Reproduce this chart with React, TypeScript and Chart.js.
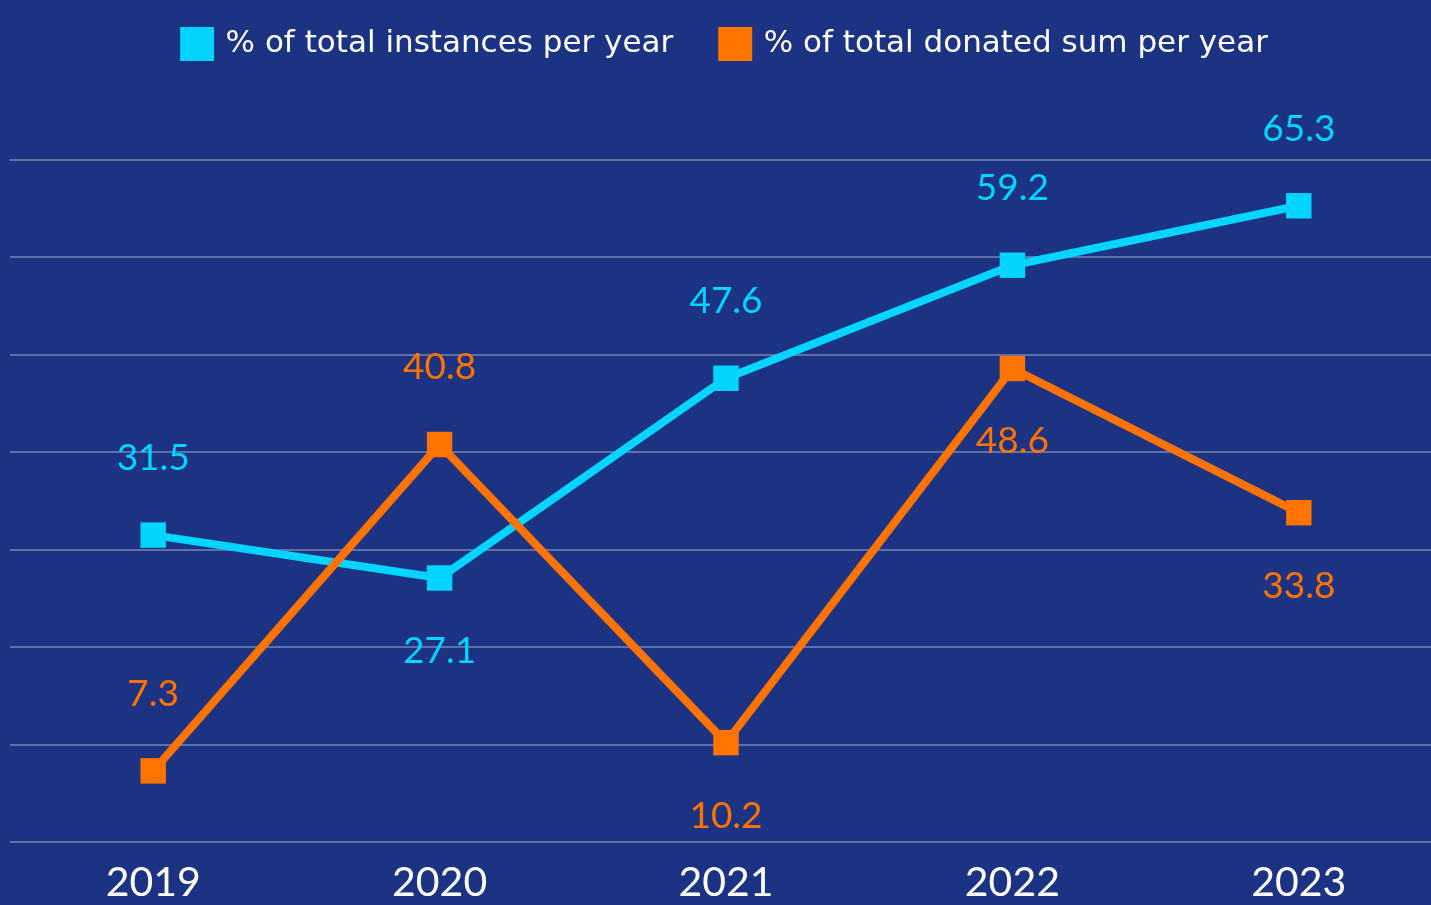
import React, { useEffect, useRef } from "react";
import { Chart, registerables } from "chart.js";

Chart.register(...registerables);

const years = ["2019", "2020", "2021", "2022", "2023"];
const instancesPct = [31.5, 27.1, 47.6, 59.2, 65.3];
const donatedPct = [7.3, 40.8, 10.2, 48.6, 33.8];
const instancesLabelSide = ["above", "below", "above", "above", "above"];
const donatedLabelSide = ["above", "above", "below", "below", "below"];
const yMin = 0;
const yMax = 70;
const yStep = 10;

const BG = "#1b3382";
const CYAN = "#00d4ff";
const ORANGE = "#ff7300";
const LABEL_FONT = "Lato, 'Open Sans', sans-serif";
const LEGEND_FONT = "'DejaVu Sans', 'Open Sans', sans-serif";

const valueLabels = {
  id: "valueLabels",
  afterDatasetsDraw(chart: any) {
    const ctx = chart.ctx;
    ctx.save();
    ctx.font = `37px ${LABEL_FONT}`;
    ctx.textAlign = "center";
    ctx.textBaseline = "middle";
    chart.data.datasets.forEach((ds: any, i: number) => {
      const meta = chart.getDatasetMeta(i);
      ctx.fillStyle = ds.borderColor;
      meta.data.forEach((pt: any, j: number) => {
        const side = ds.labelSide[j];
        const y = side === "above" ? pt.y - 77 : pt.y + 73;
        ctx.fillText(String(ds.data[j]), pt.x, y);
      });
    });
    ctx.restore();
  },
};

export default function App() {
  const ref = useRef<HTMLCanvasElement>(null);
  useEffect(() => {
    document.body.style.margin = "0";
    const chart = new Chart(ref.current!, {
      type: "line",
      data: {
        labels: years,
        datasets: [
          {
            label: "% of total instances per year",
            data: instancesPct,
            borderColor: CYAN,
            backgroundColor: CYAN,
            borderWidth: 8,
            pointStyle: "rect",
            pointRadius: 18,
            pointBorderWidth: 0,
            pointBackgroundColor: CYAN,
            order: 1,
            labelSide: instancesLabelSide,
          } as any,
          {
            label: "% of total donated sum per year",
            data: donatedPct,
            borderColor: ORANGE,
            backgroundColor: ORANGE,
            borderWidth: 8,
            pointStyle: "rect",
            pointRadius: 18,
            pointBorderWidth: 0,
            pointBackgroundColor: ORANGE,
            order: 0,
            labelSide: donatedLabelSide,
          } as any,
        ],
      },
      options: {
        responsive: false,
        animation: false,
        layout: { autoPadding: false, padding: { left: 10, right: 0, top: -20.5, bottom: 0 } },
        plugins: {
          tooltip: { enabled: false },
          title: {
            display: true,
            text: " ",
            position: "top",
            weight: 500,
            font: { size: 1 },
            padding: { top: 89.3, bottom: 0 },
          } as any,
          legend: {
            position: "top",
            labels: {
              color: "#ffffff",
              boxWidth: 26,
              boxHeight: 26,
              padding: 49,
              font: { family: LEGEND_FONT, size: 31 },
              sort: (a: any, b: any) => a.datasetIndex - b.datasetIndex,
            },
          },
        },
        scales: {
          x: {
            offset: true,
            grid: { display: false, drawTicks: false },
            border: { display: false },
            ticks: {
              color: "#ffffff",
              font: { family: LABEL_FONT, size: 41 },
              padding: 16,
            },
            afterFit: (s: any) => {
              s.height = 63;
              s.paddingLeft = 0;
              s.paddingRight = 0;
            },
          },
          y: {
            min: yMin,
            max: yMax,
            ticks: { display: false, stepSize: yStep },
            grid: { color: "rgba(255,255,255,0.3)", lineWidth: 2, drawTicks: false },
            border: { display: false },
            afterFit: (s: any) => {
              s.width = 0;
            },
          },
        },
      },
      plugins: [valueLabels],
    });
    return () => chart.destroy();
  }, []);
  return (
    <div
      style={{
        position: "fixed",
        left: 0,
        top: 0,
        width: 1431,
        height: 905,
        overflow: "hidden",
        background: BG,
      }}
    >
      <canvas ref={ref} width={1442} height={905} style={{ width: 1442, height: 905, display: "block" }} />
    </div>
  );
}
